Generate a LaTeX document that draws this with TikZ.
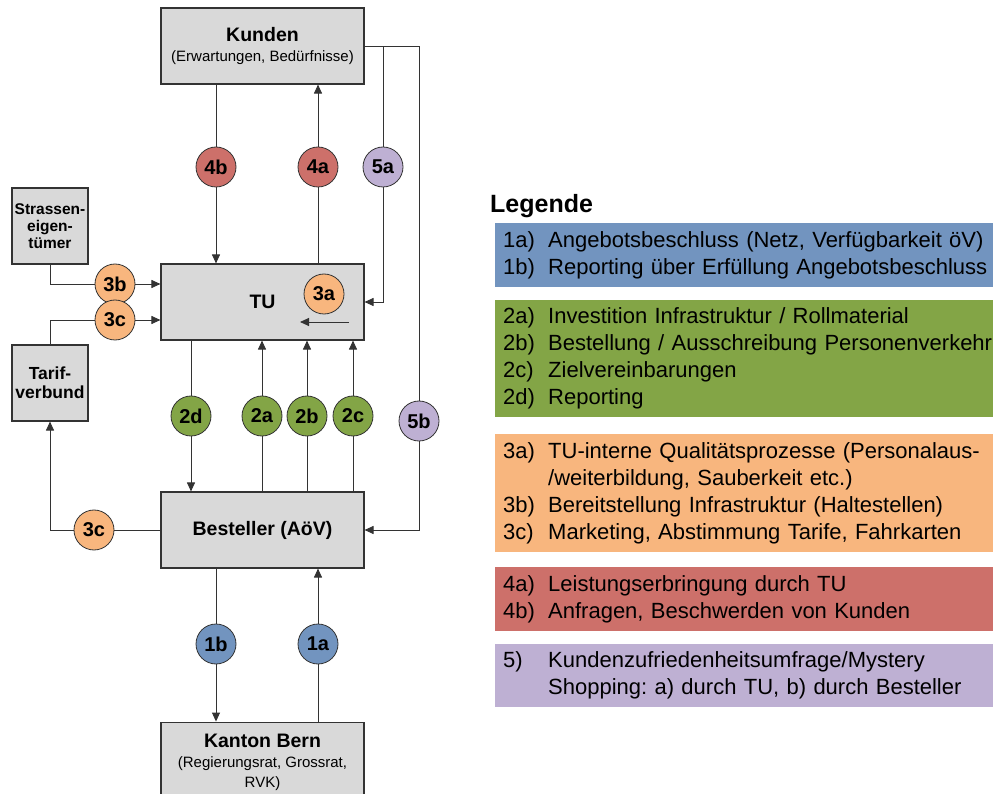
\documentclass[tikz,border=0pt]{standalone}
\usepackage{fontspec}
\setmainfont{Liberation Sans}
\usetikzlibrary{arrows.meta}
\frenchspacing
\definecolor{grau}{RGB}{217,217,217}
\definecolor{blau}{RGB}{114,148,191}
\definecolor{gruen}{RGB}{131,165,70}
\definecolor{hellorange}{RGB}{248,182,126}
\definecolor{rot}{RGB}{205,112,106}
\definecolor{lila}{RGB}{190,176,211}
\tikzstyle{kasten}=[draw=black!80, line width=1.1pt, fill=grau, minimum width=203pt,
  minimum height=76pt, align=center, inner sep=2pt, font=\fontsize{19.5}{20}\selectfont]
\tikzstyle{klein}=[kasten, minimum width=76pt, font=\fontsize{15.5}{17}\selectfont\bfseries]
\tikzstyle{kreis}=[circle, draw=black!80, line width=0.8pt, minimum size=40pt,
  inner sep=0pt, font=\fontsize{20}{20}\selectfont\bfseries]
\tikzstyle{linie}=[draw, color=black!80, line width=0.9pt]
\tikzstyle{pfeil}=[linie, -{Triangle[length=9pt,width=8pt]}]
\tikzset{
    legende/.style={anchor=north west, fill=#1, text width=482pt, inner xsep=8pt,
        inner ysep=0pt, align=left, font=\fontsize{22}{27}\selectfont}}
\newcommand{\kasten}[2]{node (#1) [kasten] {#2}}
\newcommand{\kreis}[3]{node (k#1) [kreis, fill=#2] {#3}}
\newcommand{\zeile}[2]{\makebox[45pt][l]{#1}\mbox{#2}}
\newcommand{\klein}{\fontsize{15}{20}\selectfont}

\begin{document}
\begin{tikzpicture}[x=1pt, y=-1pt]
\useasboundingbox (0,0) rectangle (994,794);
% Draw diagram elements
\path (262.5,46) \kasten{kunden}{\textbf{Kunden}\\
  \fontsize{15}{19}\selectfont(Erwartungen, Bedürfnisse)};
\path (kunden)+(0,256) \kasten{tu}{\textbf{TU}};
\path (tu)+(0,228) \kasten{besteller}{\textbf{Besteller (AöV)}};
\path (besteller.south)+(0,153) node (kanton) [kasten, anchor=north, minimum height=0pt,
  inner ysep=12pt, text depth=60pt]
  {\textbf{Kanton Bern}\\ \klein(Regierungsrat, Grossrat,\\ \klein RVK)};
\path (50,226) node (strassen) [klein] {Strassen-\\eigen-\\tümer};
\path (strassen)+(0,157) node (tarif) [klein, font=\fontsize{17.5}{19}\selectfont\bfseries]
  {Tarif-\\verbund};

\path (216,167) \kreis{4b}{rot}{4b};
\path (318,167) \kreis{4a}{rot}{4a};
\path (383,167) \kreis{5a}{lila}{5a};
\path (115,284) \kreis{3b}{hellorange}{3b};
\path (324,294) \kreis{3a}{hellorange}{3a};
\path (115,320) \kreis{3c}{hellorange}{3c};
\path (191,416) \kreis{2d}{gruen}{2d};
\path (262,416) \kreis{2a}{gruen}{2a};
\path (307,416) \kreis{2b}{gruen}{2b};
\path (353,416) \kreis{2c}{gruen}{2c};
\path (419,421) \kreis{5b}{lila}{5b};
\path (94,530) \kreis{3cu}{hellorange}{3c};
\path (216,644) \kreis{1b}{blau}{1b};
\path (318,644) \kreis{1a}{blau}{1a};

\coordinate (a3s) at (349,322);
\coordinate (a3e) at (300,322);

% Draw arrows between elements
\path [linie] (kunden.south -| k4b) -- (k4b);
\path [pfeil] (k4b) -- (tu.north -| k4b);
\path [linie] (tu.north -| k4a) -- (k4a);
\path [pfeil] (k4a) -- (kunden.south -| k4a);
\path [linie] (kunden.east) -| (k5a.north);
\path [pfeil] (k5a.south) |- (tu.east);
\path [linie] (kunden.east) -| (k5b.north);
\path [pfeil] (k5b.south) |- (besteller.east);
\path [linie] (strassen.south) |- (k3b.west);
\path [pfeil] (k3b.east) -- (tu.west |- k3b);
\path [linie] (tarif.north) |- (k3c.west);
\path [pfeil] (k3c.east) -- (tu.west |- k3c);
\path [pfeil] (a3s) -- (a3e);
\path [linie] (tu.south -| k2d) -- (k2d);
\path [pfeil] (k2d) -- (besteller.north -| k2d);
\path [linie] (besteller.north -| k2a) -- (k2a);
\path [pfeil] (k2a) -- (tu.south -| k2a);
\path [linie] (besteller.north -| k2b) -- (k2b);
\path [pfeil] (k2b) -- (tu.south -| k2b);
\path [linie] (besteller.north -| k2c) -- (k2c);
\path [pfeil] (k2c) -- (tu.south -| k2c);
\path [linie] (besteller.west) -- (k3cu.east);
\path [pfeil] (k3cu.west) -| (tarif.south);
\path [linie] (besteller.south -| k1b) -- (k1b);
\path [pfeil] (k1b) -- (kanton.north -| k1b);
\path [linie] (kanton.north -| k1a) -- (k1a);
\path [pfeil] (k1a) -- (besteller.south -| k1a);

% Legende
\path (490,213) node (titel) [anchor=base west, inner sep=0pt,
  font=\fontsize{25}{25}\selectfont\bfseries] {Legende};
\path (495,223) node (leg1) [legende=blau, minimum height=64pt]
  {\zeile{1a)}{Angebotsbeschluss (Netz, Verfügbarkeit öV)}\\
   \zeile{1b)}{Reporting über Erfüllung Angebotsbeschluss}};
\path (495,300) node (leg2) [legende=gruen, minimum height=117pt]
  {\zeile{2a)}{Investition Infrastruktur / Rollmaterial}\\
   \zeile{2b)}{Bestellung / Ausschreibung Personenverkehr}\\
   \zeile{2c)}{Zielvereinbarungen}\\
   \zeile{2d)}{Reporting}};
\path (495,434) node (leg3) [legende=hellorange, minimum height=118pt]
  {\zeile{3a)}{TU-interne Qualitätsprozesse (Personalaus-}\\
   \zeile{}{/weiterbildung, Sauberkeit etc.)}\\
   \zeile{3b)}{Bereitstellung Infrastruktur (Haltestellen)}\\
   \zeile{3c)}{Marketing, Abstimmung Tarife, Fahrkarten}};
\path (495,567) node (leg4) [legende=rot, minimum height=64pt]
  {\zeile{4a)}{Leistungserbringung durch TU}\\
   \zeile{4b)}{Anfragen, Beschwerden von Kunden}};
\path (495,644) node (leg5) [legende=lila, minimum height=63pt]
  {\zeile{5)}{Kundenzufriedenheitsumfrage/Mystery}\\
   \zeile{}{Shopping: a) durch TU, b) durch Besteller}};
\end{tikzpicture}
\end{document}
